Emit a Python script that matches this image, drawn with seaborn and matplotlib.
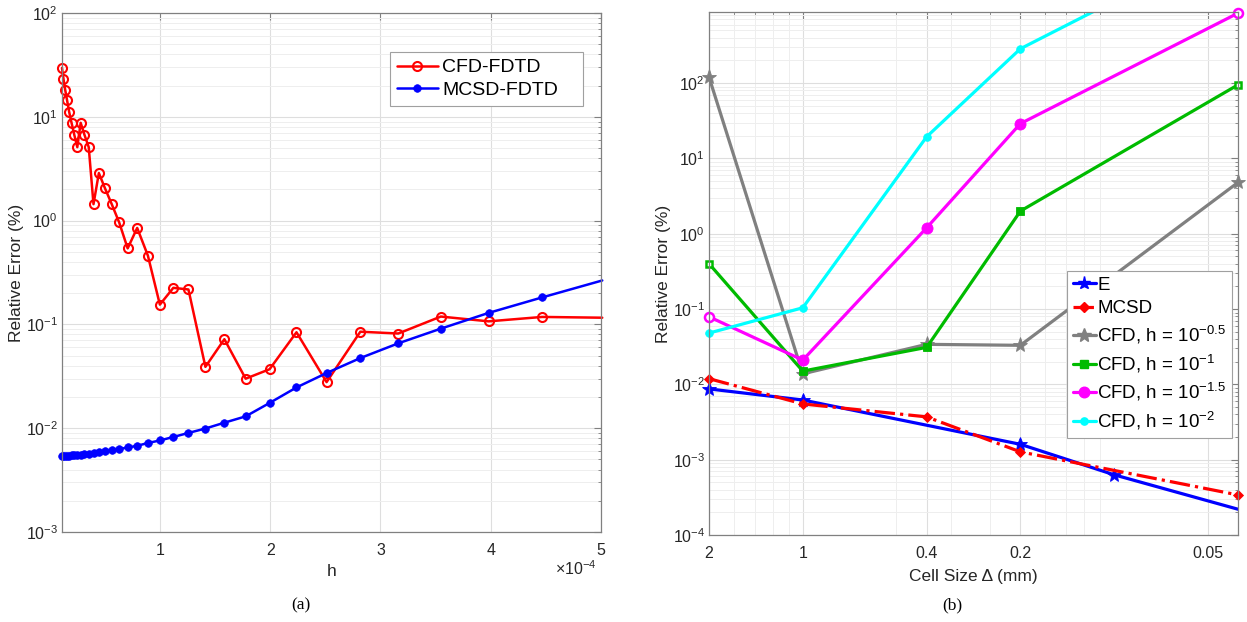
import numpy as np
import matplotlib
matplotlib.use('Agg')
import matplotlib.pyplot as plt
import seaborn as sns
from matplotlib.ticker import LogLocator, NullFormatter, FixedLocator, FixedFormatter
from matplotlib.lines import Line2D

# ---------------- data: panel (a) ----------------
h_vals = [1.122e-5, 1.259e-5, 1.413e-5, 1.585e-5, 1.778e-5, 1.995e-5, 2.239e-5,
          2.512e-5, 2.818e-5, 3.162e-5, 3.548e-5, 3.981e-5, 4.467e-5, 5.012e-5,
          5.623e-5, 6.310e-5, 7.079e-5, 7.943e-5, 8.913e-5, 1.000e-4, 1.122e-4,
          1.259e-4, 1.413e-4, 1.585e-4, 1.778e-4, 1.995e-4, 2.239e-4, 2.512e-4,
          2.818e-4, 3.162e-4, 3.548e-4, 3.981e-4, 4.467e-4, 5.012e-4]
cfd_fdtd = [29.6, 23.2, 18.2, 14.4, 11.1, 8.7, 6.7, 5.1, 8.75, 6.7, 5.1, 1.44,
            2.87, 2.06, 1.45, 0.96, 0.54, 0.85, 0.46, 0.155, 0.225, 0.217, 0.039,
            0.072, 0.030, 0.037, 0.084, 0.0278, 0.085, 0.0817, 0.119, 0.107, 0.118,
            0.116]
mcsd_fdtd = [0.00541, 0.00542, 0.00543, 0.00544, 0.00545, 0.00547, 0.00549,
             0.00552, 0.00556, 0.00561, 0.00567, 0.00580, 0.00589, 0.00602,
             0.00610, 0.00629, 0.00652, 0.00677, 0.00720, 0.00762, 0.00823,
             0.00900, 0.00993, 0.0113, 0.0130, 0.0175, 0.0247, 0.0340, 0.0474,
             0.0657, 0.0910, 0.129, 0.182, 0.265]
a_xticks = [1e-4, 2e-4, 3e-4, 4e-4, 5e-4]
a_xticklabels = ['1', '2', '3', '4', '5']

# ---------------- data: panel (b) ----------------
e_delta = [2, 1, 0.2, 0.1, 0.025]
e_err = [0.0087, 0.0062, 0.0016, 0.00063, 0.000128]
mcsd_delta = [2, 1, 0.4, 0.2, 0.04]
mcsd_err = [0.0119, 0.0055, 0.0037, 0.00127, 0.00034]
cfd_delta = [2, 1, 0.4, 0.2, 0.04]
cfd_h05 = [120, 0.0138, 0.034, 0.033, 4.8]
cfd_h1 = [0.40, 0.015, 0.031, 2.0, 95]
cfd_h15 = [0.079, 0.021, 1.2, 29, 850]
cfd_h2 = [0.048, 0.104, 19.4, 286, 8500]
b_ticks = [2, 1, 0.4, 0.2, 0.05]
b_ticklabels = ['2', '1', '0.4', '0.2', '0.05']
b_labels = ['E', 'MCSD', r'CFD, h = 10$^{-0.5}$', r'CFD, h = 10$^{-1}$',
            r'CFD, h = 10$^{-1.5}$', r'CFD, h = 10$^{-2}$']

sns.set_theme(style='white')
plt.rcParams['font.family'] = ['Liberation Sans', 'DejaVu Sans']
plt.rcParams['mathtext.default'] = 'regular'
plt.rcParams['axes.unicode_minus'] = True

TXT = '#262626'
SPINE = '#808080'

fig = plt.figure(figsize=(12.47, 6.22), dpi=100)
ax1 = fig.add_axes([0.0497, 0.1447, 0.4322, 0.8344])
ax2 = fig.add_axes([0.5686, 0.1399, 0.4242, 0.8408])


def style_axes(ax):
    for s in ax.spines.values():
        s.set_color(SPINE)
        s.set_linewidth(0.9)
    ax.tick_params(which='both', direction='in', top=True, right=True,
                   colors=SPINE, labelcolor=TXT, labelsize=11.5)
    ax.tick_params(which='major', length=5, width=0.8)
    ax.tick_params(which='minor', length=2.5, width=0.6)
    ax.tick_params(axis='x', which='major', pad=8)
    ax.tick_params(axis='y', which='major', pad=3)
    ax.set_axisbelow(True)


# ---------- panel (a) ----------
n = len(h_vals)
sns.lineplot(x=h_vals, y=cfd_fdtd, ax=ax1, color='#ff0000', linewidth=1.8,
             marker='o', markersize=6.5, markerfacecolor='none',
             markeredgecolor='#ff0000', markeredgewidth=1.5,
             markevery=list(range(n - 1)), estimator=None, sort=False,
             clip_on=False, label='CFD-FDTD')
sns.lineplot(x=h_vals, y=mcsd_fdtd, ax=ax1, color='#0000ff', linewidth=1.8,
             marker='o', markersize=5.5, markerfacecolor='#0000ff',
             markeredgecolor='#0000ff', markeredgewidth=0.5,
             markevery=list(range(n - 1)), estimator=None, sort=False,
             clip_on=False, label='MCSD-FDTD')
ax1.set_yscale('log')
ax1.set_xlim(h_vals[0], 5e-4)
ax1.set_ylim(1e-3, 1e2)
ax1.xaxis.set_major_locator(FixedLocator(a_xticks))
ax1.xaxis.set_major_formatter(FixedFormatter(a_xticklabels))
ax1.yaxis.set_major_locator(LogLocator(base=10, numticks=10))
ax1.yaxis.set_minor_locator(LogLocator(base=10, subs=np.arange(2, 10), numticks=20))
ax1.yaxis.set_minor_formatter(NullFormatter())
ax1.grid(True, which='major', color='#dedede', linewidth=0.8)
ax1.grid(True, which='minor', axis='y', color='#eeeeee', linewidth=0.7)
style_axes(ax1)
ax1.set_xlabel('h', fontsize=12.5, color=TXT, labelpad=4)
ax1.set_ylabel('Relative Error (%)', fontsize=12.5, color=TXT, labelpad=1)
ax1.text(0.992, -0.052, r'×10$^{-4}$', transform=ax1.transAxes, ha='right',
         va='top', fontsize=11.5, color=TXT)
leg1 = ax1.legend(loc='upper left', bbox_to_anchor=(0.6085, 0.0, 0.358, 0.925),
                  mode='expand', fontsize=14,
                  frameon=True, fancybox=False, edgecolor='#a0a0a0',
                  handlelength=2.1, handletextpad=0.25, borderpad=0.35,
                  labelspacing=0.25, borderaxespad=0, framealpha=1)
leg1.get_frame().set_linewidth(0.8)
for t in leg1.get_texts():
    t.set_color('black')

# ---------- panel (b) ----------
inv = lambda d: [1.0 / v for v in d]
lw = 2.3
XMIN, XMAX = 1 / 2.0, 1 / 0.04
YMIN, YMAX = 1e-4, 880


def in_range(xs, ys):
    px, py = [], []
    for a, b in zip(xs, ys):
        if XMIN * 0.999 <= a <= XMAX * 1.001 and YMIN <= b <= YMAX * 1.01:
            px.append(a)
            py.append(b)
    return px, py


series = [
    (e_delta, e_err, '#0000ff', '-', '*', 10, True),
    (mcsd_delta, mcsd_err, '#ff0000', '-.', 'D', 5, True),
    (cfd_delta, cfd_h05, '#808080', '-', '*', 11, True),
    (cfd_delta, cfd_h1, '#00bb00', '-', 's', 5.5, False),
    (cfd_delta, cfd_h15, '#ff00ff', '-', 'o', 8, False),
    (cfd_delta, cfd_h2, '#00ffff', '-', 'o', 5.5, True),
]
handles = []
for (dl, err, col, ls, mk, ms, filled_ends) in series:
    xs = inv(dl)
    sns.lineplot(x=xs, y=err, ax=ax2, color=col, linewidth=lw, linestyle=ls,
                 estimator=None, sort=False, legend=False)
    px, py = in_range(xs, err)
    if filled_ends:
        sns.lineplot(x=px, y=py, ax=ax2, color=col, linestyle='none', marker=mk,
                     markersize=ms, markerfacecolor=col, markeredgecolor=col,
                     markeredgewidth=0.6, estimator=None, sort=False,
                     clip_on=False, legend=False)
    else:
        sns.lineplot(x=px[1:-1], y=py[1:-1], ax=ax2, color=col, linestyle='none',
                     marker=mk, markersize=ms, markerfacecolor=col,
                     markeredgecolor=col, markeredgewidth=0.6, estimator=None,
                     sort=False, clip_on=False, legend=False)
        sns.lineplot(x=[px[0], px[-1]], y=[py[0], py[-1]], ax=ax2, color=col,
                     linestyle='none', marker=mk, markersize=ms - 1.5,
                     markerfacecolor='white', markeredgecolor=col,
                     markeredgewidth=1.8, estimator=None, sort=False,
                     clip_on=False, legend=False)
    handles.append(Line2D([], [], color=col, linewidth=lw, linestyle=ls,
                          marker=mk, markersize=ms * 0.95, markerfacecolor=col,
                          markeredgecolor=col))

ax2.set_xscale('log')
ax2.set_yscale('log')
ax2.set_xlim(XMIN, XMAX)
ax2.set_ylim(YMIN, YMAX)
ax2.xaxis.set_major_locator(FixedLocator(inv(b_ticks)))
ax2.xaxis.set_major_formatter(FixedFormatter(b_ticklabels))
ax2.xaxis.set_minor_locator(LogLocator(base=10, subs=np.arange(2, 10), numticks=20))
ax2.xaxis.set_minor_formatter(NullFormatter())
ax2.yaxis.set_major_locator(LogLocator(base=10, numticks=12))
ax2.yaxis.set_minor_locator(LogLocator(base=10, subs=np.arange(2, 10), numticks=30))
ax2.yaxis.set_minor_formatter(NullFormatter())
ax2.grid(True, which='major', color='#dedede', linewidth=0.8)
ax2.grid(True, which='minor', color='#eeeeee', linewidth=0.7)
style_axes(ax2)
ax2.set_xlabel('Cell Size Δ (mm)', fontsize=12.5, color=TXT, labelpad=6)
ax2.set_ylabel('Relative Error (%)', fontsize=12.5, color=TXT, labelpad=1)
leg2 = ax2.legend(handles, b_labels, loc='upper right',
                  bbox_to_anchor=(0.989, 0.505), fontsize=13.5,
                  frameon=True, fancybox=False, edgecolor='#a0a0a0',
                  handlelength=1.2, handletextpad=0.1, borderpad=0.3,
                  labelspacing=0.35, borderaxespad=0, framealpha=1)
leg2.get_frame().set_linewidth(0.8)
for t in leg2.get_texts():
    t.set_color('black')

fig.text(301 / 1247, 1 - 605 / 622, '(a)', family='Liberation Serif',
         fontsize=12.5, ha='center', va='center', color='black')
fig.text(952 / 1247, 1 - 605 / 622, '(b)', family='Liberation Serif',
         fontsize=12.5, ha='center', va='center', color='black')

fig.savefig('out.png', dpi=100)
